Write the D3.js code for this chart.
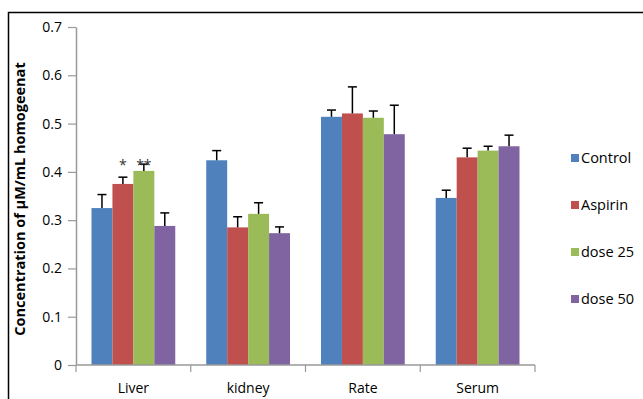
<!DOCTYPE html>
<html>
<head>
<meta charset="utf-8">
<script src="https://cdn.jsdelivr.net/npm/d3@7"></script>
<style>
  body { margin: 0; background: #fff; }
  text { font-family: "Open Sans", "Liberation Sans", sans-serif; }
</style>
</head>
<body>
<script>
// 寸法
const w = 643;
const h = 399;
const margin = { top: 27, right: 108, bottom: 34, left: 76 };

// データ
const categories = ["Liver", "kidney", "Rate", "Serum"];
const series = ["Control", "Aspirin", "dose 25", "dose 50"];
const colors = ["#4f81bd", "#c0504d", "#9bbb59", "#8064a2"];
const means = [
  [0.325, 0.375, 0.402, 0.288],
  [0.424, 0.285, 0.313, 0.273],
  [0.514, 0.521, 0.512, 0.478],
  [0.346, 0.430, 0.444, 0.453]
];
const errors = [
  [0.028, 0.014, 0.014, 0.027],
  [0.020, 0.022, 0.023, 0.013],
  [0.014, 0.055, 0.014, 0.060],
  [0.016, 0.019, 0.009, 0.023]
];
const stars = [
  { cat: 0, s: 1, label: "*" },
  { cat: 0, s: 2, label: "**" }
];
const yTicks = [0, 0.1, 0.2, 0.3, 0.4, 0.5, 0.6, 0.7];

const svg = d3.select("body").append("svg").attr("width", w).attr("height", h);

// 外枠
svg.append("path")
  .attr("d", "M8.5," + h + "V12.5H" + w)
  .attr("fill", "none")
  .attr("stroke", "#000")
  .attr("stroke-width", 1.5);

const xScale = d3.scaleBand()
  .domain(categories)
  .range([margin.left, w - margin.right])
  .paddingInner(0.27)
  .paddingOuter(0.135);

const x1 = d3.scaleBand()
  .domain(series)
  .range([0, xScale.bandwidth()]);

const yScale = d3.scaleLinear()
  .domain([0, 0.7])
  .range([h - margin.bottom, margin.top]);

// 棒
const groups = svg.selectAll("g.cat")
  .data(categories)
  .enter()
  .append("g")
  .attr("class", "cat")
  .attr("transform", d => "translate(" + xScale(d) + ",0)");

groups.selectAll("rect")
  .data((d, i) => series.map((s, j) => ({ s: s, j: j, v: means[i][j], e: errors[i][j] })))
  .enter()
  .append("rect")
  .attr("x", d => x1(d.s))
  .attr("y", d => yScale(d.v))
  .attr("width", x1.bandwidth())
  .attr("height", d => yScale(0) - yScale(d.v))
  .attr("fill", d => colors[d.j]);

// 誤差棒
const eb = groups.selectAll("g.err")
  .data((d, i) => series.map((s, j) => ({ s: s, v: means[i][j], e: errors[i][j] })))
  .enter()
  .append("g")
  .attr("class", "err")
  .attr("stroke", "#000")
  .attr("stroke-width", 1.5);

eb.append("line")
  .attr("x1", d => x1(d.s) + x1.bandwidth() / 2)
  .attr("x2", d => x1(d.s) + x1.bandwidth() / 2)
  .attr("y1", d => yScale(d.v))
  .attr("y2", d => yScale(d.v + d.e));

eb.append("line")
  .attr("x1", d => x1(d.s) + x1.bandwidth() / 2 - 4.5)
  .attr("x2", d => x1(d.s) + x1.bandwidth() / 2 + 4.5)
  .attr("y1", d => yScale(d.v + d.e))
  .attr("y2", d => yScale(d.v + d.e));

// 有意差の印（同じ高さに並べる）
const starTop = d3.max(stars, d => means[d.cat][d.s] + errors[d.cat][d.s]);
svg.selectAll("text.star")
  .data(stars)
  .enter()
  .append("text")
  .attr("class", "star")
  .attr("x", d => xScale(categories[d.cat]) + x1(series[d.s]) + x1.bandwidth() / 2)
  .attr("y", yScale(starTop) + 6)
  .attr("text-anchor", "middle")
  .attr("font-size", "14px")
  .attr("fill", "#333")
  .text(d => d.label);

// X軸
const xAxis = svg.append("g")
  .attr("transform", "translate(0," + yScale(0) + ")");
xAxis.append("line")
  .attr("x1", margin.left)
  .attr("x2", w - margin.right)
  .attr("stroke", "#999")
  .attr("stroke-width", 1.5);
const bounds = categories.map(c => xScale(c) - xScale.step() * xScale.paddingInner() / 2);
bounds.push(w - margin.right);
xAxis.selectAll("line.tick")
  .data(bounds)
  .enter()
  .append("line")
  .attr("class", "tick")
  .attr("x1", d => d)
  .attr("x2", d => d)
  .attr("y1", 0)
  .attr("y2", 7)
  .attr("stroke", "#999")
  .attr("stroke-width", 1.2);
xAxis.selectAll("text")
  .data(categories)
  .enter()
  .append("text")
  .attr("x", d => xScale(d) + xScale.bandwidth() / 2)
  .attr("y", 28)
  .attr("text-anchor", "middle")
  .attr("font-size", "14px")
  .attr("fill", "#000")
  .text(d => d);

// Y軸
const yAxis = d3.axisLeft(yScale)
  .tickValues(yTicks)
  .tickFormat(d => d === 0 ? "0" : d3.format(".1f")(d))
  .tickSize(8)
  .tickSizeOuter(0)
  .tickPadding(6);

const gy = svg.append("g")
  .attr("transform", "translate(" + margin.left + ",0)")
  .call(yAxis);
gy.select(".domain").attr("stroke", "#999").attr("stroke-width", 1.5);
gy.selectAll(".tick line").attr("stroke", "#999").attr("stroke-width", 1.2);
gy.selectAll(".tick text")
  .attr("font-size", "14px")
  .attr("font-family", "\"Open Sans\", \"Liberation Sans\", sans-serif")
  .attr("fill", "#000");

// Y軸タイトル
svg.append("text")
  .attr("transform", "translate(25,199) rotate(-90)")
  .attr("text-anchor", "middle")
  .attr("font-size", "14.5px")
  .attr("font-weight", "bold")
  .attr("fill", "#000")
  .text("Concentration of µM/mL homogeenat");

// 凡例
const legend = svg.selectAll("g.legend")
  .data(series)
  .enter()
  .append("g")
  .attr("class", "legend")
  .attr("transform", (d, i) => "translate(571," + (158 + i * 47) + ")");
legend.append("rect")
  .attr("x", 0)
  .attr("y", -4)
  .attr("width", 8)
  .attr("height", 8)
  .attr("fill", (d, i) => colors[i]);
legend.append("text")
  .attr("x", 10)
  .attr("y", 5)
  .attr("font-size", "14.5px")
  .attr("fill", "#000")
  .text(d => d);
</script>
</body>
</html>
